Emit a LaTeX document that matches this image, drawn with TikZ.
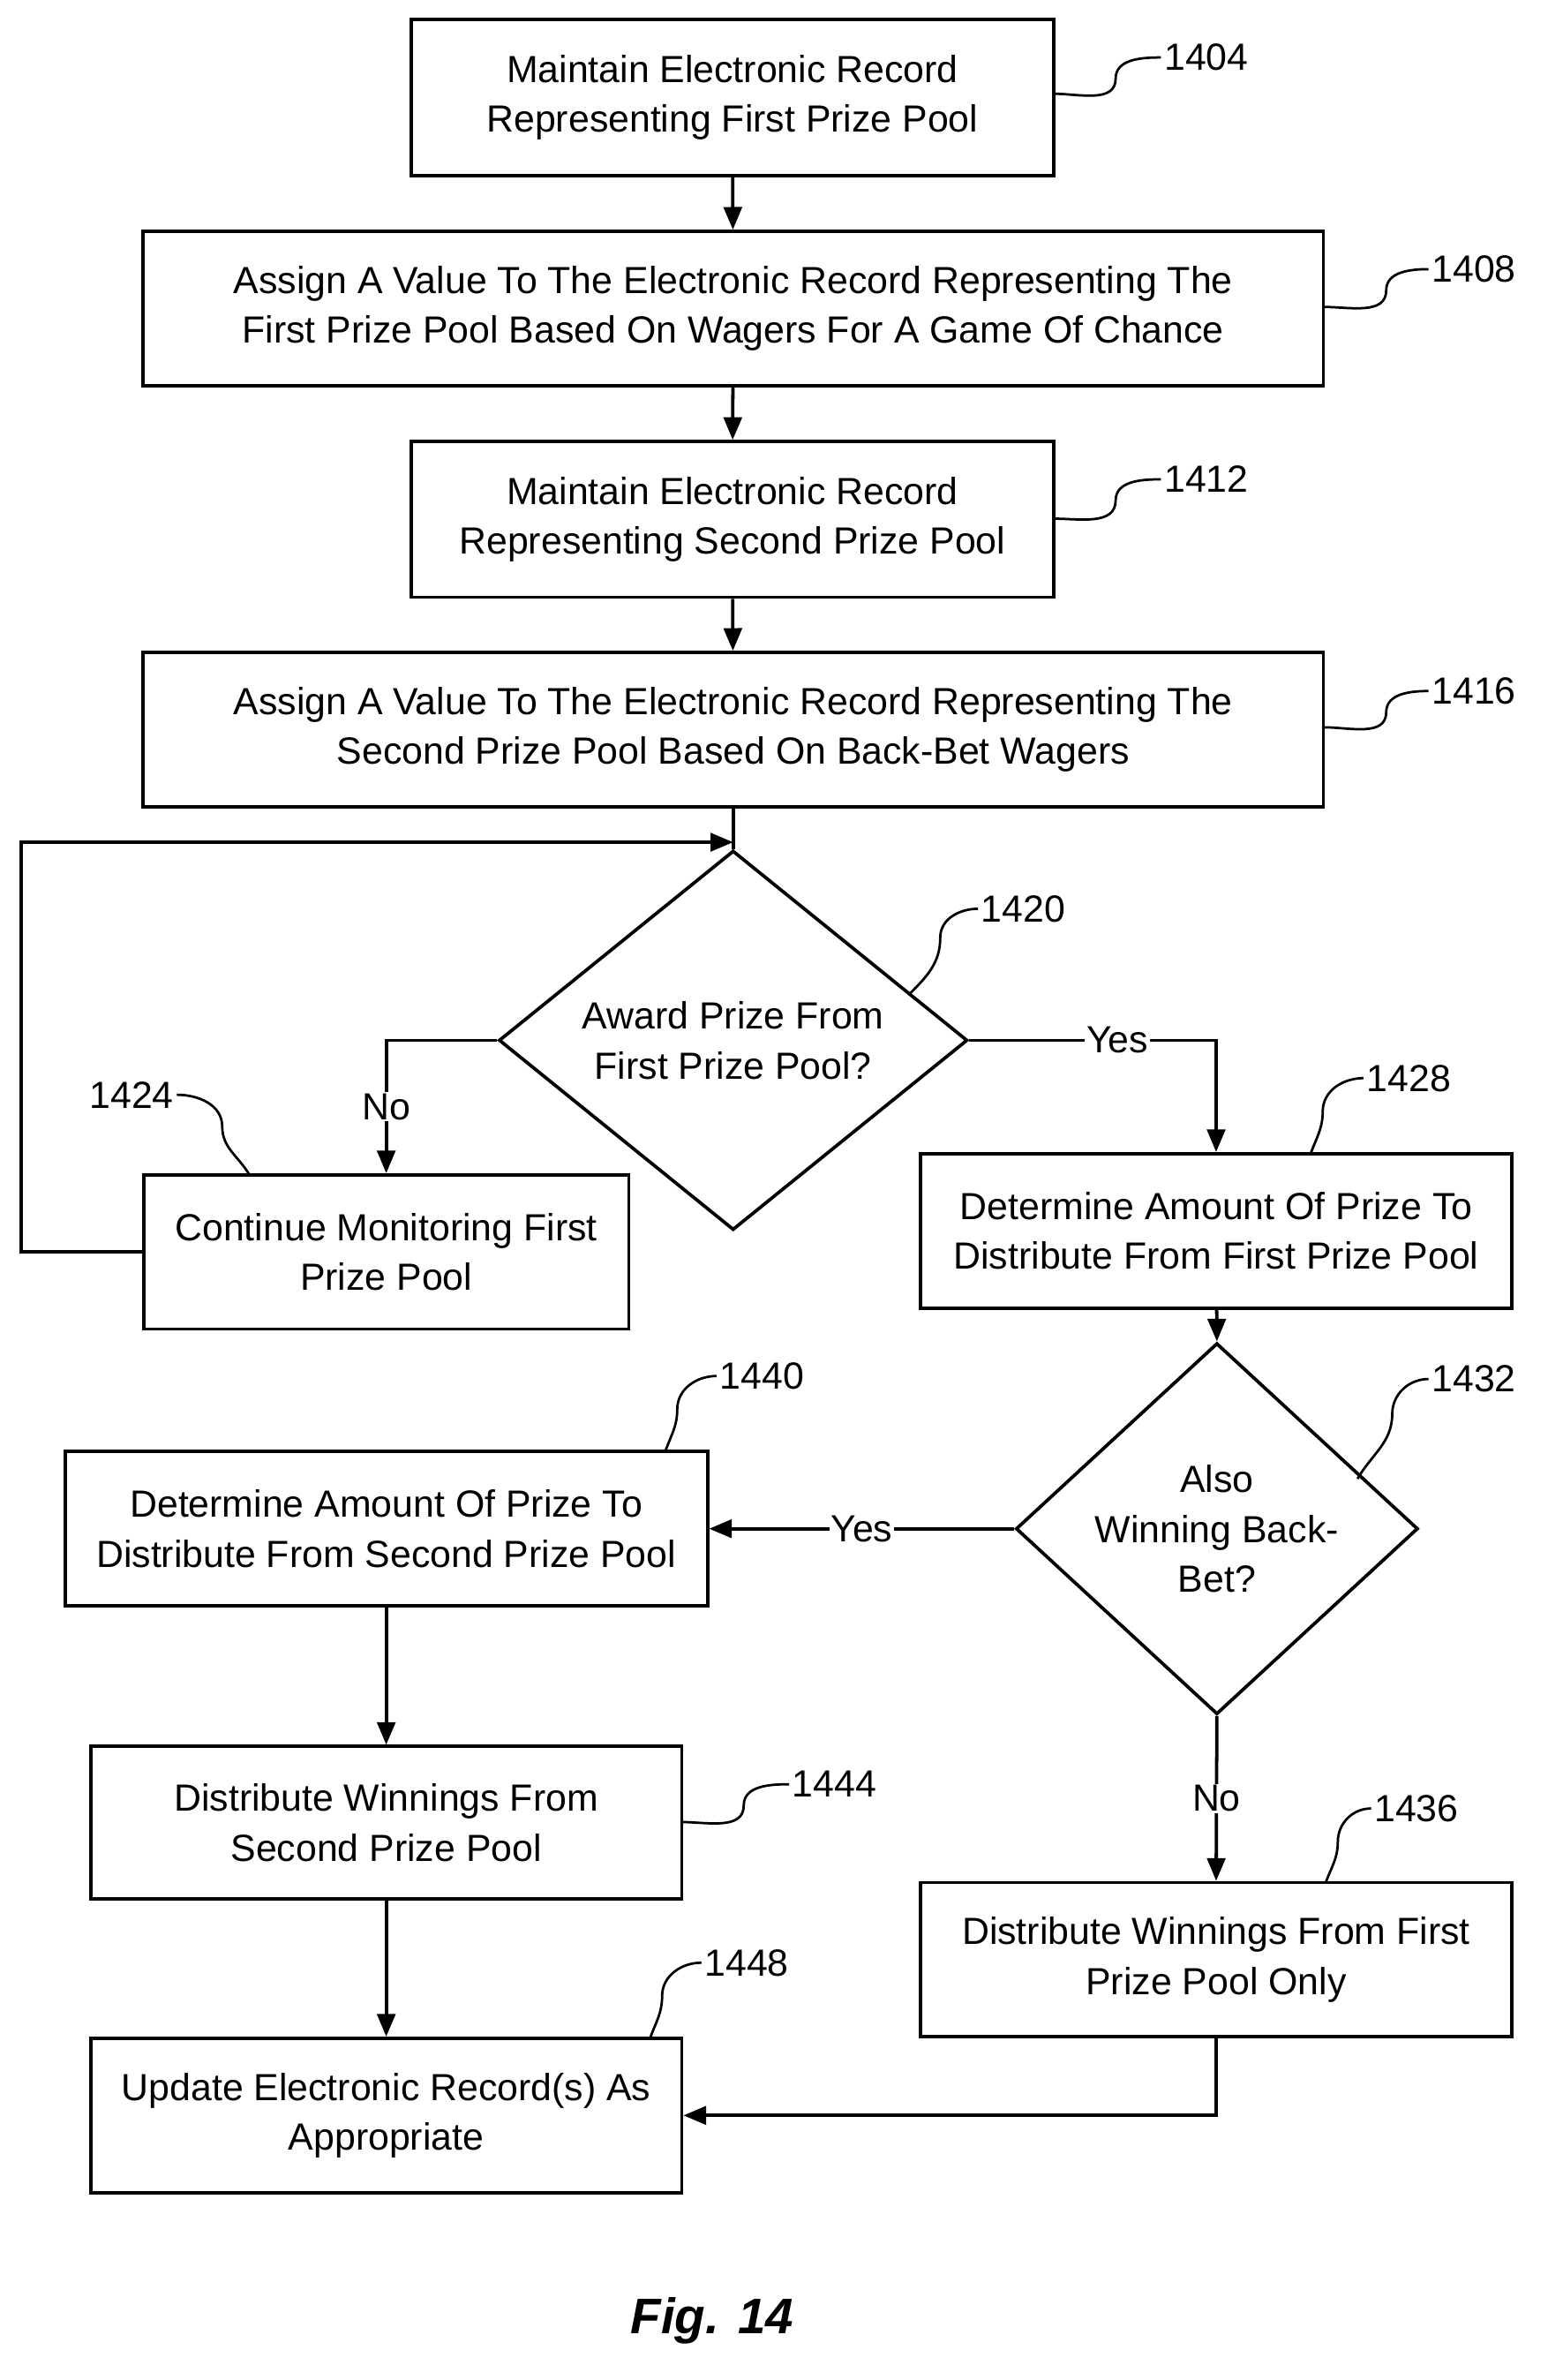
\documentclass[tikz,border=0pt]{standalone}
\usepackage{fontspec}
\setmainfont{Liberation Sans}
\usetikzlibrary{shapes.geometric,arrows.meta}
\tikzset{
  stage/.style={draw,line width=2.2pt,align=center,inner sep=0pt},
  test/.style={draw,diamond,line width=2.2pt,align=center,inner sep=0pt},
  flow/.style={line width=2.2pt,-{Triangle[length=15pt,width=12pt]}},
  link/.style={line width=2.2pt},
  hook/.style={line width=1.6pt},
  refnum/.style={anchor=west,inner sep=2pt},
  answer/.style={fill=white,inner sep=1pt}
}
\begin{document}
\begin{tikzpicture}[x=1pt,y=-1pt,font=\fontsize{25}{33}\selectfont]
  \useasboundingbox (0,0) rectangle (1024,1574);

  % boxes
  \node[stage,minimum width=425pt,minimum height=103pt] (b1404) at (484.5,64.5)
    {Maintain Electronic Record\\Representing First Prize Pool};
  \node[stage,minimum width=781pt,minimum height=102pt] (b1408) at (485,204)
    {Assign A Value To The Electronic Record Representing The\\First Prize Pool Based On Wagers For A Game Of Chance};
  \node[stage,minimum width=425pt,minimum height=103pt] (b1412) at (484.5,343.5)
    {Maintain Electronic Record\\Representing Second Prize Pool};
  \node[stage,minimum width=781pt,minimum height=102pt] (b1416) at (485,482.5)
    {Assign A Value To The Electronic Record Representing The\\Second Prize Pool Based On Back-Bet Wagers};
  \node[test,minimum width=310pt,minimum height=231pt] (d1420) at (485,688)
    {Award Prize From\\First Prize Pool?};
  \node[stage,minimum width=321pt,minimum height=102pt] (b1424) at (255.5,828)
    {Continue Monitoring First\\Prize Pool};
  \node[stage,minimum width=391pt,minimum height=102pt] (b1428) at (804.5,814)
    {Determine Amount Of Prize To\\Distribute From First Prize Pool};
  \node[test,minimum width=266pt,minimum height=198pt] (d1432) at (805,1011)
    {Also\\Winning Back-\\Bet?};
  \node[stage,minimum width=425pt,minimum height=102pt] (b1440) at (255.5,1011)
    {Determine Amount Of Prize To\\Distribute From Second Prize Pool};
  \node[stage,minimum width=391pt,minimum height=101pt] (b1444) at (255.5,1205.5)
    {Distribute Winnings From\\Second Prize Pool};
  \node[stage,minimum width=391pt,minimum height=102pt] (b1436) at (804.5,1296)
    {Distribute Winnings From First\\Prize Pool Only};
  \node[stage,minimum width=391pt,minimum height=102pt] (b1448) at (255.5,1399)
    {Update Electronic Record(s) As\\Appropriate};

  % connectors
  \coordinate (join) at (485,557);
  \draw[flow] (b1404) -- (b1408);
  \draw[flow] (b1408) -- (b1412);
  \draw[flow] (b1412) -- (b1416);
  \draw[link] (b1416) -- (d1420.north);
  \draw[flow] (b1424.west) -- (14,828) -- (14,557) -- (join);
  \draw[flow] (d1420.west) -| node[answer,pos=0.75]{No} (b1424.north);
  \draw[flow] (d1420.east) -| node[answer,pos=0.3]{Yes} (b1428.north);
  \draw[flow] (b1428) -- (d1432.north);
  \draw[flow] (d1432.west) -- node[answer]{Yes} (b1440.east);
  \draw[flow] (d1432.south) -- node[answer,pos=0.5]{No} (b1436.north);
  \draw[flow] (b1440) -- (b1444);
  \draw[flow] (b1444) -- (b1448);
  \draw[flow] (b1436.south) |- (b1448.east);

  % reference numbers
  \node[refnum] (n1404) at (768,38) {1404};
  \node[refnum] (n1408) at (945,178) {1408};
  \node[refnum] (n1412) at (768,317) {1412};
  \node[refnum] (n1416) at (945,457) {1416};
  \node[refnum] (n1420) at (647,601) {1420};
  \node[refnum] (n1424) at (57,724) {1424};
  \node[refnum] (n1428) at (902,713) {1428};
  \node[refnum] (n1432) at (945,912) {1432};
  \node[refnum] (n1440) at (474,910) {1440};
  \node[refnum] (n1444) at (522,1180) {1444};
  \node[refnum] (n1436) at (907,1196) {1436};
  \node[refnum] (n1448) at (464,1298) {1448};

  \draw[hook] (697,62) to[out=0,in=-90] (738,52) to[out=90,in=180] (n1404.west);
  \draw[hook] (876,203) to[out=0,in=-90] (917,192) to[out=90,in=180] (n1408.west);
  \draw[hook] (697,343) to[out=0,in=-90] (738,331) to[out=90,in=180] (n1412.west);
  \draw[hook] (876,481) to[out=0,in=-90] (917,471) to[out=90,in=180] (n1416.west);
  \draw[hook] (601,658) to[out=45,in=-90] (622,620) to[out=90,in=180] (n1420.west);
  \draw[hook] (n1424.east) to[out=0,in=90] (147,745) to[out=-90,in=120] (165,777);
  \draw[hook] (n1428.west) to[out=180,in=90] (875,735) to[out=-90,in=70] (867,763);
  \draw[hook] (n1432.west) to[out=180,in=90] (921,935) to[out=-90,in=60] (898,978);
  \draw[hook] (n1440.west) to[out=180,in=90] (448,932) to[out=-90,in=70] (440,960);
  \draw[hook] (451,1205) to[out=0,in=-90] (492,1194) to[out=90,in=180] (n1444.west);
  \draw[hook] (n1436.west) to[out=180,in=90] (885,1218) to[out=-90,in=70] (877,1245);
  \draw[hook] (n1448.west) to[out=180,in=90] (438,1320) to[out=-90,in=70] (430,1348);

  % caption
  \node (caption) at (471,1535) {\fontsize{33}{40}\selectfont\bfseries\itshape Fig. 14};
\end{tikzpicture}
\end{document}
